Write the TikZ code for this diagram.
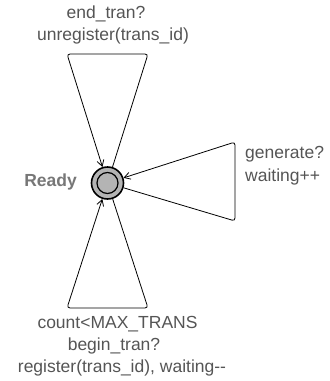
\documentclass[tikz,border=0pt]{standalone}
\usepackage{fontspec}
\setmainfont{Liberation Sans}
\usetikzlibrary{arrows.meta}
\definecolor{lbl}{HTML}{555555}
\definecolor{rdy}{HTML}{777777}
\definecolor{locfill}{HTML}{B4B4B4}
\begin{document}
\begin{tikzpicture}[x=1pt,y=-1pt,
  lab/.style={inner sep=0pt,text=lbl,font=\fontsize{17.5}{21}\selectfont},
  loop/.style={draw=black,line width=0.8pt,rounded corners=3pt,-{Straight Barb[length=6pt,width=7pt]}},
  loc/.style={circle,draw=black,line width=1.6pt,fill=locfill,minimum size=32pt,inner sep=0pt}]
\useasboundingbox (0,0) rectangle (330,381);
\node[loc] (ready) at (107.5,183) {};
\node[circle,draw=black,line width=1.2pt,minimum size=21pt,inner sep=0pt] (inner) at (ready.center) {};
\node[lab,text=rdy,font=\fontsize{17.5}{21}\selectfont\bfseries,anchor=east] (name) at (77,182) {Ready};
% top loop
\draw[loop] (ready) -- (148,54) -- (67,54) -- (ready);
\node[lab] (t1) at (106,14) {end\_tran?};
\node[lab] (t2) at (113,36) {unregister(trans\_id)};
% right loop
\draw[loop] (ready) -- (235,221) -- (235,142) -- (ready);
\node[lab,anchor=west] (r1) at (245,154) {generate?};
\node[lab,anchor=west] (r2) at (245,177) {waiting++};
% bottom loop
\draw[loop] (ready) -- (148,308) -- (67,308) -- (ready);
\node[lab] (b1) at (117.5,324) {count<MAX\_TRANS};
\node[lab] (b2) at (114,346) {begin\_tran?};
\node[lab] (b3) at (122,368) {register(trans\_id), waiting-{}-};
\end{tikzpicture}
\end{document}
